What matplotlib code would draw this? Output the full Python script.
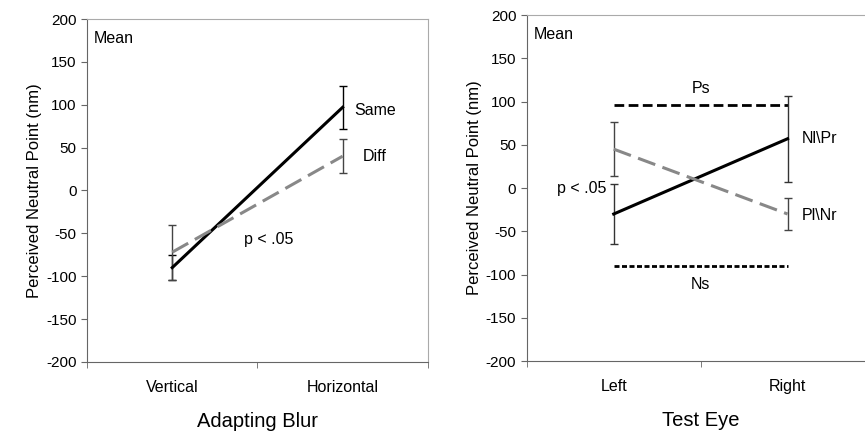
import matplotlib.pyplot as plt

plt.rcParams['font.family'] = ['Liberation Sans', 'DejaVu Sans']
plt.rcParams['axes.unicode_minus'] = False

# left panel: adapting blur
blur_cats = ['Vertical', 'Horizontal']
same_mean = [-90, 97]
same_err = [15, 25]
diff_mean = [-72, 40]
diff_err = [32, 20]

# right panel: test eye
eye_cats = ['Left', 'Right']
nlpr_mean = [-30, 57]
nlpr_err = [35, 50]
plnr_mean = [45, -30]
plnr_err = [31, 18]
ps_level = 96
ns_level = -90

fig = plt.figure(figsize=(8.65, 4.43), dpi=100)
ax1 = fig.add_axes([0.1006, 0.183, 0.394, 0.774])
ax2 = fig.add_axes([0.609, 0.185, 0.402, 0.781])

grey = '#888888'
fs = 11.5


def style(ax, cats, xlabel):
    ax.set_xlim(-0.5, 1.5)
    ax.set_ylim(-200, 200)
    ax.set_yticks(range(-200, 201, 50))
    ax.set_xticks([0, 1])
    ax.set_xticklabels(cats, fontsize=fs)
    ax.set_xticks([-0.5, 0.5, 1.5], minor=True)
    ax.tick_params(axis='x', which='major', length=0, pad=13)
    ax.tick_params(axis='x', which='minor', length=4, color='#666666')
    ax.tick_params(axis='y', length=4, color='#666666', labelsize=11)
    for s in ['left', 'bottom']:
        ax.spines[s].set_color('#666666')
    for s in ['top', 'right']:
        ax.spines[s].set_color('#aaaaaa')
    ax.set_ylabel('Perceived Neutral Point (nm)', fontsize=12, labelpad=3)
    ax.set_xlabel(xlabel, fontsize=14.5, labelpad=12)
    ax.text(0.02, 0.965, 'Mean', transform=ax.transAxes, fontsize=fs, va='top')


# left
x = [0, 1]
ax1.errorbar(x, same_mean, yerr=same_err, color='black', lw=2.2, ecolor='black',
             elinewidth=1, capsize=3)
ax1.errorbar(x, diff_mean, yerr=diff_err, color=grey, lw=2.2, dashes=(6, 2.5),
             ecolor='#444444', elinewidth=1, capsize=3)
ax1.text(1.07, 93, 'Same', fontsize=fs, va='center')
ax1.text(1.12, 40, 'Diff', fontsize=fs, va='center')
ax1.text(0.42, -57, 'p < .05', fontsize=fs, va='center')
style(ax1, blur_cats, 'Adapting Blur')

# right
ax2.plot(x, [ps_level, ps_level], color='black', lw=2, dashes=(3.5, 1.6))
ax2.plot(x, [ns_level, ns_level], color='black', lw=2, dashes=(1.8, 0.9))
ax2.errorbar(x, nlpr_mean, yerr=nlpr_err, color='black', lw=2.2, ecolor='#333333',
             elinewidth=1, capsize=3)
ax2.errorbar(x, plnr_mean, yerr=plnr_err, color=grey, lw=2.2, dashes=(6, 2.5),
             ecolor='#444444', elinewidth=1, capsize=3)
ax2.text(0.5, 115, 'Ps', fontsize=fs, ha='center', va='center')
ax2.text(0.5, -112, 'Ns', fontsize=fs, ha='center', va='center')
ax2.text(1.08, 57, 'Nl\\Pr', fontsize=fs, va='center')
ax2.text(1.08, -32, 'Pl\\Nr', fontsize=fs, va='center')
ax2.text(-0.04, 0, 'p < .05', fontsize=fs, ha='right', va='center')
style(ax2, eye_cats, 'Test Eye')

fig.savefig('out.png', dpi=100)
